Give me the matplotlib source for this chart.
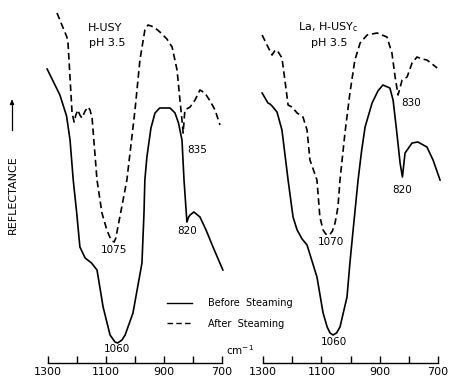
import matplotlib.pyplot as plt
from matplotlib.lines import Line2D

# 왼쪽: H-USY, 오른쪽: La,H-USYc  (x: 파수 cm-1, y: 반사율 임의단위)
wn_before_1 = [1303, 1259, 1236, 1224, 1213, 1201, 1190, 1172, 1150, 1131, 1110, 1086, 1069, 1060,
               1045, 1034, 1007, 976, 969, 966, 959, 945, 931, 915, 903, 879, 862, 850, 838, 831,
               821, 815, 810, 797, 776, 755, 731, 697]
r_before_1 = [294, 268, 247, 223, 183, 150, 116, 105, 100, 93, 56, 28, 21, 20,
              23, 28, 50, 100, 150, 183, 206, 235, 250, 255, 255, 255, 250, 240, 223, 183,
              141, 146, 148, 151, 146, 133, 116, 93]

wn_after_1 = [1269, 1252, 1235, 1231, 1217, 1210, 1204, 1197, 1190, 1183, 1172, 1162, 1155, 1148,
              1131, 1114, 1097, 1087, 1079, 1072, 1066, 1059, 1041, 1028, 1000, 983, 966, 955,
              935, 914, 890, 872, 855, 845, 838, 834, 828, 810, 793, 776, 759, 741, 724, 707]
r_after_1 = [350, 338, 326, 320, 250, 241, 248, 253, 248, 245, 252, 256, 253, 245,
             183, 150, 133, 126, 122, 121, 125, 136, 163, 183, 253, 303, 333, 338,
             336, 331, 324, 316, 293, 263, 243, 230, 253, 256, 263, 273, 270, 262, 253, 238]

wn_before_2 = [1303, 1283, 1276, 1269, 1252, 1235, 1214, 1197, 1183, 1166, 1149, 1115, 1094, 1080,
               1070, 1060, 1048, 1036, 1012, 1002, 991, 974, 962, 950, 926, 906, 889, 865, 854,
               841, 830, 822, 813, 789, 769, 738, 717, 693]
r_before_2 = [270, 260, 259, 257, 251, 233, 183, 146, 133, 124, 118, 86, 50, 36,
              30, 28, 30, 36, 66, 100, 133, 183, 212, 236, 260, 272, 278, 275, 263,
              230, 200, 186, 210, 220, 221, 216, 203, 183]

wn_after_2 = [1303, 1283, 1269, 1260, 1252, 1235, 1225, 1214, 1201, 1183, 1163, 1149, 1139, 1115,
              1105, 1094, 1085, 1072, 1062, 1053, 1043, 1036, 1019, 1002, 985, 967, 943, 909,
              875, 858, 847, 837, 823, 806, 789, 772, 755, 738, 720, 703]
r_after_2 = [328, 316, 308, 312, 313, 305, 283, 258, 256, 250, 246, 233, 203, 183,
             146, 133, 129, 128, 132, 140, 156, 183, 230, 270, 303, 320, 328, 330,
             326, 310, 286, 268, 283, 286, 300, 306, 304, 303, 299, 295]

# 피크 라벨 (파수, 높이, 텍스트)
peaks_1 = [(786, 213, '835'), (821, 132, '820'), (1072, 113, '1075'), (1062, 14, '1060')]
peaks_2 = [(793, 260, '830'), (823, 173, '820'), (1067, 121, '1070'), (1057, 21, '1060')]
titles = [('H-USY', 'pH 3.5'), ('La, H-USY$_{\\mathrm{c}}$', 'pH 3.5')]
title_pos = [(1103, 335, 1097, 320), (1077, 336, 1074, 320)]

ticks_major = [1300, 1100, 900, 700]
ticks_minor = [1200, 1000, 800]

fs = 7.5
dash = (0, (4.0, 2.3))

fig = plt.figure(figsize=(4.52, 3.78), dpi=100)
ax1 = fig.add_axes([48 / 452, 15 / 378, 174 / 452, 363 / 378])
ax2 = fig.add_axes([263 / 452, 15 / 378, 175 / 452, 363 / 378])

data = [(ax1, wn_before_1, r_before_1, wn_after_1, r_after_1, peaks_1),
        (ax2, wn_before_2, r_before_2, wn_after_2, r_after_2, peaks_2)]

for i, (ax, wb, rb, wa, ra, pk) in enumerate(data):
    ax.plot(wb, rb, color='black', lw=1.2, clip_on=False)
    ax.plot(wa, ra, color='black', lw=1.2, linestyle=dash, clip_on=False)
    for w, r, t in pk:
        ax.text(w, r, t, ha='center', va='center', fontsize=fs)
    t1, t2 = titles[i]
    x1, y1, x2, y2 = title_pos[i]
    ax.text(x1, y1, t1, ha='center', va='center', fontsize=fs + 0.5)
    ax.text(x2, y2, t2, ha='center', va='center', fontsize=fs + 0.5)

    ax.set_xlim(1300, 700)
    ax.set_ylim(0, 363)
    for s in ['top', 'left', 'right']:
        ax.spines[s].set_visible(False)
    ax.spines['bottom'].set_linewidth(1.0)
    ax.set_yticks([])
    ax.set_xticks(ticks_major)
    ax.set_xticks(ticks_minor, minor=True)
    ax.tick_params(axis='x', which='both', direction='in', length=5, width=1.0,
                   labelsize=fs + 0.5, pad=3)
    ax.patch.set_alpha(0)

# 범례
handles = [Line2D([], [], color='black', lw=1.0),
           Line2D([], [], color='black', lw=1.0, linestyle=dash)]
fig.legend(handles, ['Before  Steaming', 'After  Steaming'], loc='upper left',
           bbox_to_anchor=(167 / 452, 1 - 298 / 378), frameon=False, fontsize=fs - 0.5,
           handlelength=2.6, handletextpad=1.6, labelspacing=1.1, borderpad=0,
           borderaxespad=0)

fig.text(240 / 452, 1 - 350 / 378, 'cm$^{-1}$', ha='center', va='center', fontsize=fs)

# y축 라벨 + 화살표
fig.text(13 / 452, 1 - 195 / 378, 'REFLECTANCE', rotation=90, ha='center', va='center',
         fontsize=fs + 0.5)
fig.add_artist(plt.Line2D([12 / 452, 12 / 452], [1 - 130 / 378, 1 - 102 / 378],
                          color='black', lw=0.9))
ax1.annotate('', xy=(12 / 452, 1 - 97 / 378), xytext=(12 / 452, 1 - 104 / 378),
             xycoords='figure fraction', textcoords='figure fraction',
             arrowprops=dict(arrowstyle='-|>', color='black', lw=0.9, mutation_scale=6))

fig.savefig('out.png', dpi=100)
